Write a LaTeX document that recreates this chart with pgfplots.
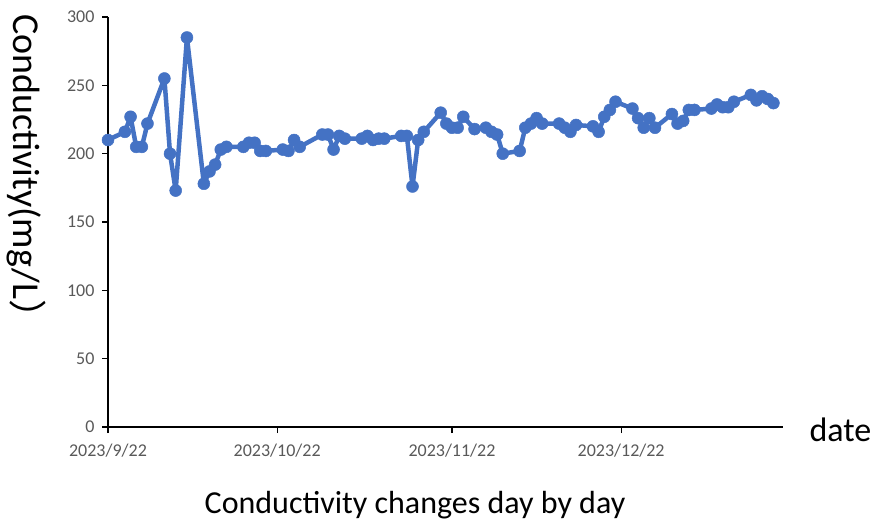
\documentclass[border=0pt]{standalone}
\usepackage{pgfplots}
\pgfplotsset{compat=1.18}
\usepackage{fontspec}
\setmainfont{Carlito}
\newfontfamily\cjk{Noto Sans CJK SC}
\definecolor{xlblue}{HTML}{4472C4}
\definecolor{ticktext}{HTML}{595959}

\begin{document}
\begin{tikzpicture}[x=1pt,y=1pt]
\useasboundingbox (0,0) rectangle (880,523);
\begin{axis}[
    at={(108pt,96pt)}, anchor=south west,
    width=675pt, height=410pt, scale only axis,
    xmin=0, xmax=119.7, ymin=0, ymax=300,
    axis lines*=left,
    axis line style={black, line width=1.5pt},
    tick align=outside, major tick length=6pt,
    tick style={black, line width=1.2pt},
    xtick={0,30,61,91},
    xticklabels={2023/9/22,2023/10/22,2023/11/22,2023/12/22},
    ytick={0,50,...,300},
    tick label style={font=\fontsize{18}{21}\selectfont, text=ticktext},
    xticklabel style={yshift=-7pt},
    yticklabel style={xshift=-4pt},
    /pgf/number format/assume math mode=true,
    clip=false,
]
\addplot[xlblue, line width=4.5pt, line join=round, mark=*, mark size=6pt,
    mark options={fill=xlblue, draw=xlblue, line width=0.5pt}] coordinates {
(0,210) (3,216) (4,227) (5,205) (6,205) (7,222) (10,255) (11,200) (12,173)
(14,285) (17,178) (18,187) (19,192) (20,203) (21,205) (24,205) (25,208)
(26,208) (27,202) (28,202) (31,203) (32,202) (33,210) (34,205) (38,214)
(39,214) (40,203) (41,213) (42,211) (45,211) (46,213) (47,210) (48,211)
(49,211) (52,213) (53,213) (54,176) (55,210) (56,216) (59,230) (60,222)
(61,219) (62,219) (63,227) (65,218) (67,219) (68,216) (69,214) (70,200)
(73,202) (74,219) (75,222) (76,226) (77,222) (80,222) (81,219) (82,216)
(83,221) (86,220) (87,216) (88,227) (89,232) (90,238) (93,233) (94,226)
(95,219) (96,226) (97,219) (100,229) (101,222) (102,224) (103,232) (104,232)
(107,233) (108,236) (109,234) (110,234) (111,238) (114,243) (115,239)
(116,242) (117,240) (118,237)
};
\end{axis}
\node[rotate=-90, anchor=west, inner sep=0pt, font=\fontsize{38}{44}\selectfont] at (26,509) {Conductivity(mg/L{\cjk ）}};
\node[font=\fontsize{32}{38}\selectfont] at (415,18) {Conductivity changes day by day};
\node[anchor=west, font=\fontsize{34}{40}\selectfont] at (806,93) {date};
\end{tikzpicture}
\end{document}
